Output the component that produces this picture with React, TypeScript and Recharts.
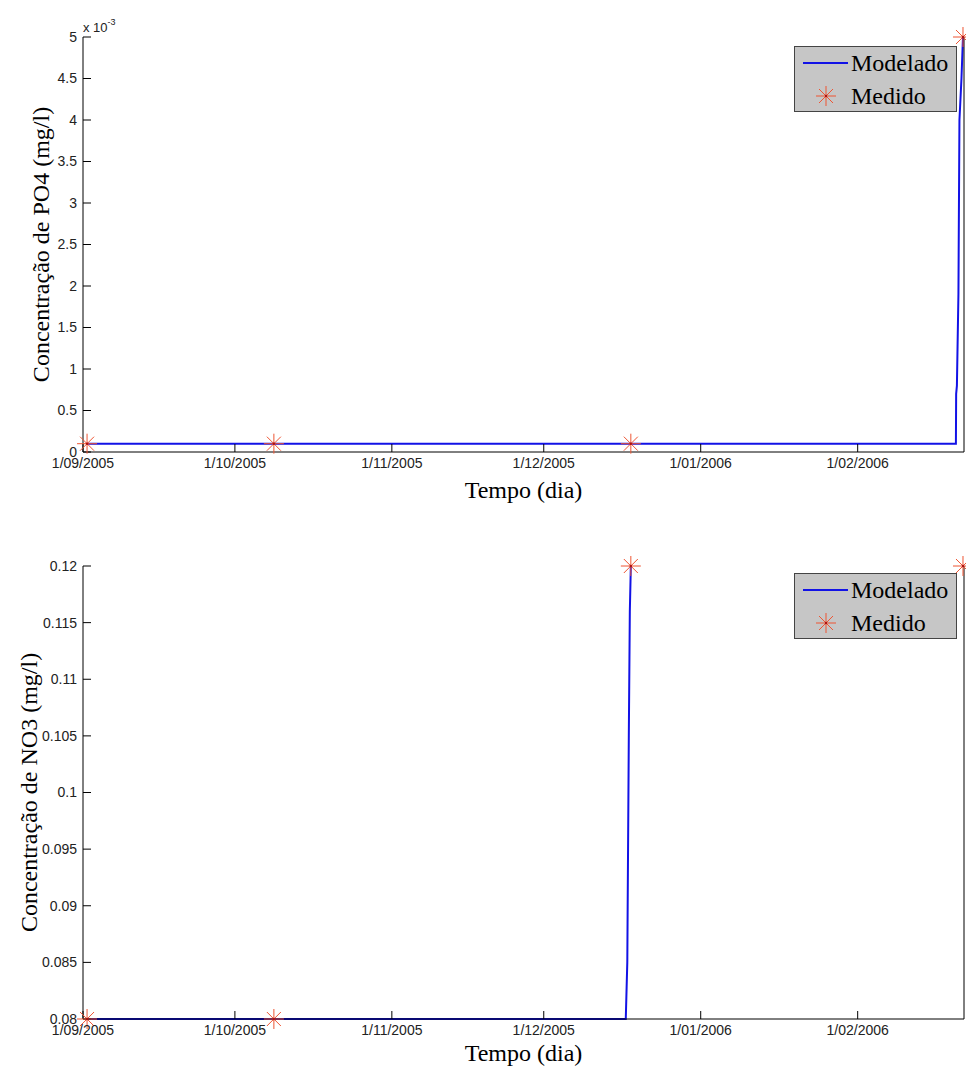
import React from "react";
import { ComposedChart, Line, Scatter, XAxis, YAxis } from "recharts";

// days counted from 1/09/2005
const tickDays = [0, 30, 61, 91, 122, 153];
const tickLabels = ["1/09/2005", "1/10/2005", "1/11/2005", "1/12/2005", "1/01/2006", "1/02/2006"];

const measuredDays = [0.8, 37.7, 108.2, 173.8];
const po4Measured = [0.0001, 0.0001, 0.0001, 0.005];
const no3Measured = [0.08, 0.08, 0.12, 0.12];

const po4ModelDays = [0.8, 172.4, 172.45, 172.6, 172.9, 173.1, 173.5, 173.8];
const po4Model = [0.0001, 0.0001, 0.0007, 0.0008, 0.0019, 0.004, 0.0045, 0.005];

const no3ModelDays = [0.8, 107.2, 107.5, 107.8, 108.0, 108.2];
const no3Model = [0.08, 0.08, 0.085, 0.105, 0.116, 0.12];

const po4Ticks = [0, 0.0005, 0.001, 0.0015, 0.002, 0.0025, 0.003, 0.0035, 0.004, 0.0045, 0.005];
const no3Ticks = [0.08, 0.085, 0.09, 0.095, 0.1, 0.105, 0.11, 0.115, 0.12];

const W = 966;
const H = 535;
const SANS = "'Liberation Sans', Arial, sans-serif";
const SERIF = "'Liberation Serif', 'Times New Roman', serif";
const BLUE = "#1212e6";
const STAR = "#ee5533";

const toPoints = (xs: number[], ys: number[]) => xs.map((x, i) => ({ x, y: ys[i] }));

const Star = (props: any) => {
  const { cx, cy } = props;
  if (cx == null || cy == null) return null;
  const r = 10;
  const d = 7;
  return (
    <g stroke={STAR} strokeWidth={1}>
      <line x1={cx - r} y1={cy} x2={cx + r} y2={cy} />
      <line x1={cx} y1={cy - r} x2={cx} y2={cy + r} />
      <line x1={cx - d} y1={cy - d} x2={cx + d} y2={cy + d} />
      <line x1={cx - d} y1={cy + d} x2={cx + d} y2={cy - d} />
      <circle cx={cx} cy={cy} r={1.2} fill="#b01010" stroke="none" />
    </g>
  );
};

const LegendBox = ({ top }: { top: number }) => (
  <div style={{ position: "absolute", left: 794, top, width: 163, height: 66 }}>
    <svg width={163} height={66}>
      <rect x={0.5} y={0.5} width={162} height={65} fill="#c6c6c6" stroke="#444" />
      <line x1={9} y1={17} x2={54} y2={17} stroke={BLUE} strokeWidth={2} />
      <text x={57} y={25} fontFamily={SERIF} fontSize={24} fill="#000">Modelado</text>
      <Star cx={32} cy={50} />
      <text x={57} y={58} fontFamily={SERIF} fontSize={24} fill="#000">Medido</text>
    </svg>
  </div>
);

const tickStyle = { fontSize: 14, fontFamily: SANS, fill: "#222" };
const fmtDate = (v: number) => tickLabels[tickDays.indexOf(v)] ?? "";

type PanelProps = {
  top: number;
  marginTop: number;
  xAxisHeight: number;
  model: { x: number; y: number }[];
  measured: { x: number; y: number }[];
  yDomain: [number, number];
  yTicks: number[];
  yFmt: (v: number) => string;
  yLabel: string;
  yLabelDx: number;
  xLabelDy: number;
};

const Panel = (p: PanelProps) => (
  <div style={{ position: "absolute", left: 0, top: p.top }}>
    <ComposedChart width={W} height={H} margin={{ top: p.marginTop, right: 0, bottom: 0, left: 0 }}>
      <XAxis
        dataKey="x"
        type="number"
        domain={[0, 174]}
        ticks={tickDays}
        tickFormatter={fmtDate}
        height={p.xAxisHeight}
        stroke="#000"
        tickSize={-8}
        tickMargin={14}
        tick={tickStyle}
        interval={0}
        label={{ value: "Tempo (dia)", position: "center", dy: p.xLabelDy, fontSize: 24, fontFamily: SERIF, fill: "#000" }}
      />
      <XAxis
        xAxisId="top"
        orientation="top"
        type="number"
        domain={[0, 174]}
        ticks={tickDays}
        tickFormatter={() => ""}
        height={0}
        stroke="#000"
        tickSize={-8}
      />
      <YAxis
        type="number"
        domain={p.yDomain}
        ticks={p.yTicks}
        tickFormatter={p.yFmt}
        width={83}
        stroke="#000"
        tickSize={-8}
        tickMargin={14}
        tick={tickStyle}
        interval={0}
        label={{ value: p.yLabel, angle: -90, position: "center", dx: p.yLabelDx, fontSize: 24, fontFamily: SERIF, fill: "#000" }}
      />
      <YAxis
        yAxisId="right"
        orientation="right"
        type="number"
        domain={p.yDomain}
        ticks={p.yTicks}
        tickFormatter={() => ""}
        width={2}
        stroke="#000"
        tickSize={-8}
      />
      <Line
        data={p.model}
        dataKey="y"
        type="linear"
        stroke={BLUE}
        strokeWidth={2}
        dot={false}
        isAnimationActive={false}
      />
      <Scatter data={p.measured} dataKey="y" shape={<Star />} isAnimationActive={false} />
    </ComposedChart>
  </div>
);

export default function App() {
  return (
    <div style={{ position: "absolute", left: 0, top: 0, width: W, height: 1070, background: "#fff" }}>
      <Panel
        top={0}
        marginTop={37}
        xAxisHeight={83}
        model={toPoints(po4ModelDays, po4Model)}
        measured={toPoints(measuredDays, po4Measured)}
        yDomain={[0, 0.005]}
        yTicks={po4Ticks}
        yFmt={(v) => String(Number((v * 1000).toFixed(1)))}
        yLabel="Concentração de PO4 (mg/l)"
        yLabelDx={-1.5}
        xLabelDy={-4}
      />
      <div style={{ position: "absolute", left: 83, top: 18, fontFamily: SANS, fontSize: 13, color: "#222", lineHeight: "13px" }}>
        x 10<sup style={{ fontSize: 9, position: "relative", top: -2 }}>-3</sup>
      </div>
      <LegendBox top={46} />
      <Panel
        top={535}
        marginTop={31}
        xAxisHeight={51}
        model={toPoints(no3ModelDays, no3Model)}
        measured={toPoints(measuredDays, no3Measured)}
        yDomain={[0.08, 0.12]}
        yTicks={no3Ticks}
        yFmt={(v) => String(Number(v.toFixed(3)))}
        yLabel="Concentração de NO3 (mg/l)"
        yLabelDx={-13.5}
        xLabelDy={8}
      />
      <LegendBox top={573} />
    </div>
  );
}
